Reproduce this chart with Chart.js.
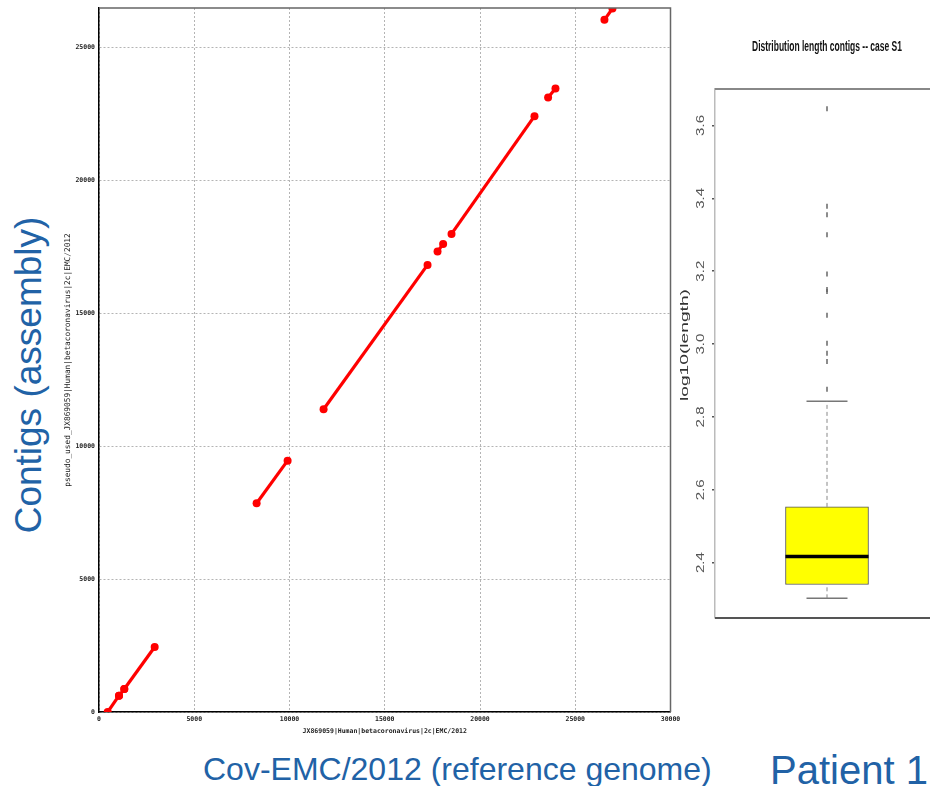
<!DOCTYPE html>
<html>
<head>
<meta charset="utf-8">
<script src="https://cdn.jsdelivr.net/npm/chart.js@4.4.1/dist/chart.umd.min.js"></script>
<style>
    body { margin: 0; background: #fff; font-family: "Liberation Sans", Arial, sans-serif; }
    #page { position: relative; width: 930px; height: 786px; overflow: hidden; }
    #dot { position: absolute; left: 60px; top: 0; }
    #box { position: absolute; left: 680px; top: 30px; }
    .blue { position: absolute; color: #2162a6; white-space: nowrap; line-height: 1; }
    #ylab { left: 28px; top: 375px; font-size: 37px; transform: translate(-50%, -50%) rotate(-90deg); }
    #xlab { left: 203px; top: 753px; font-size: 32px; }
    #patient { left: 770px; top: 750px; font-size: 40px; }
</style>
</head>
<body>
<div id="page">
    <canvas id="dot" width="630" height="745"></canvas>
    <canvas id="box" width="270" height="610"></canvas>
    <div class="blue" id="ylab">Contigs (assembly)</div>
    <div class="blue" id="xlab">Cov-EMC/2012 (reference genome)</div>
    <div class="blue" id="patient">Patient 1</div>
</div>
<script>
// dot plot: contigs against the reference
const xTicks = [0, 5000, 10000, 15000, 20000, 25000, 30000];
const yTicks = [0, 5000, 10000, 15000, 20000, 25000];
const refStart = [456, 1049, 1328, 8274, 11789, 17771, 18505, 23575, 26532];
const refEnd = [1049, 1328, 2922, 9900, 17246, 18065, 22860, 23962, 26952];
const asmStart = [0, 613, 865, 7852, 11388, 17317, 17983, 23111, 26035];
const asmEnd = [613, 865, 2445, 9455, 16817, 17607, 22411, 23450, 26460];
const xTitle = "JX869059|Human|betacoronavirus|2c|EMC/2012";
const yTitle = "pseudo_used_JX869059|Human|betacoronavirus|2c|EMC/2012";

// box plot: log10 contig lengths
const boxTicks = [2.4, 2.6, 2.8, 3.0, 3.2, 3.4, 3.6];
const quartiles = [2.340, 2.417, 2.553];   // q1, median, q3
const whiskers = [2.302, 2.843];
const outliers = [2.876, 2.952, 2.975, 3.002, 3.079, 3.144, 3.150, 3.192, 3.300, 3.355, 3.378, 3.646];
const boxTitle = "Distribution length contigs -- case S1";
const boxYTitle = "log10(length)";

const monoFont = {family: "DejaVu Sans Mono", size: 6.5, weight: "bold"};

const frame = {
    id: "frame",
    afterDraw(chart) {
        const {ctx, chartArea: a} = chart;
        ctx.save();
        ctx.strokeStyle = "#666";
        ctx.lineWidth = 1.5;
        ctx.beginPath();
        ctx.moveTo(a.left, a.top);
        ctx.lineTo(a.right, a.top);
        ctx.lineTo(a.right, a.bottom);
        ctx.stroke();
        ctx.restore();
    }
};

new Chart(document.getElementById("dot"), {
    type: "line",
    data: {
        datasets: refStart.map((s, i) => ({
            data: [{x: s, y: asmStart[i]}, {x: refEnd[i], y: asmEnd[i]}],
            borderColor: "#ff0000",
            backgroundColor: "#ff0000",
            borderWidth: 3.2,
            pointRadius: 4,
            pointBorderWidth: 0
        }))
    },
    options: {
        responsive: false,
        animation: false,
        events: [],
        layout: {padding: {top: 8, right: 19.5, bottom: 7, left: 0}},
        plugins: {legend: {display: false}, tooltip: {enabled: false}},
        scales: {
            x: {
                type: "linear", min: 0, max: 30000,
                afterBuildTicks: s => { s.ticks = xTicks.map(v => ({value: v})); },
                afterFit: s => { s.height = 26; },
                grid: {color: "#b4b4b4", lineWidth: 1, drawTicks: false},
                border: {color: "#000", width: 1.5, dash: [2, 2]},
                ticks: {font: monoFont, color: "#222", padding: 3, maxRotation: 0, callback: v => String(v)},
                title: {display: true, text: xTitle, font: monoFont, color: "#222", padding: {top: 0, bottom: 3}}
            },
            y: {
                type: "linear", min: 0, max: 26480,
                afterBuildTicks: s => { s.ticks = yTicks.map(v => ({value: v})); },
                afterFit: s => { s.width = 39; },
                grid: {color: "#b4b4b4", lineWidth: 1, drawTicks: false},
                border: {color: "#000", width: 1.5, dash: [2, 2]},
                ticks: {font: monoFont, color: "#222", padding: 4, callback: v => String(v)},
                title: {display: true, text: yTitle, font: {family: "DejaVu Sans Mono", size: 7.8}, color: "#222", padding: {top: 3.5, bottom: 0}}
            }
        }
    },
    plugins: [frame]
});

function drawFit(ctx, text, x, y, rot, width, font, color) {
    ctx.save();
    ctx.font = font;
    ctx.fillStyle = color;
    ctx.textAlign = "center";
    ctx.textBaseline = "middle";
    const k = width / ctx.measureText(text).width;
    ctx.translate(x, y);
    ctx.rotate(rot);
    ctx.scale(k, 1);
    ctx.fillText(text, 0, 0);
    ctx.restore();
}

const boxDecor = {
    id: "boxDecor",
    afterDraw(chart) {
        const {ctx, chartArea: a, scales: {y}} = chart;
        ctx.save();
        ctx.strokeStyle = "#888";
        ctx.lineWidth = 2;
        ctx.beginPath();
        ctx.moveTo(a.left, a.top);
        ctx.lineTo(a.right, a.top);
        ctx.stroke();
        ctx.strokeStyle = "#555";
        ctx.beginPath();
        ctx.moveTo(a.left, a.bottom);
        ctx.lineTo(a.right, a.bottom);
        ctx.stroke();
        ctx.restore();
        boxTicks.forEach(v => {
            drawFit(ctx, v.toFixed(1), 21, y.getPixelForValue(v), -Math.PI / 2, 21, "10px 'Liberation Sans'", "#555");
        });
        drawFit(ctx, boxYTitle, 5, 315, -Math.PI / 2, 112, "10px 'Liberation Sans'", "#333");
        drawFit(ctx, boxTitle, (a.left + a.right) / 2, 17, 0, 150, "bold 14px 'Liberation Sans'", "#111");
    }
};

const [q1, med, q3] = quartiles;
const [lo, hi] = whiskers;

new Chart(document.getElementById("box"), {
    type: "bar",
    data: {
        datasets: [
            {type: "line", data: [{x: 0.629, y: med}, {x: 1.371, y: med}], borderColor: "#000", borderWidth: 3.5, pointRadius: 0, order: 0},
            {type: "line", data: outliers.map(v => ({x: 1, y: v})), showLine: false, pointStyle: "line", rotation: 90,
                pointRadius: 2.5, pointBorderWidth: 1.5, pointBorderColor: "#666", borderColor: "#666", order: 0},
            {type: "line", data: [{x: 1, y: q3}, {x: 1, y: hi}], borderColor: "#888", borderWidth: 1, borderDash: [4, 3], pointRadius: 0, order: 1},
            {type: "line", data: [{x: 1, y: lo}, {x: 1, y: q1}], borderColor: "#888", borderWidth: 1, borderDash: [4, 3], pointRadius: 0, order: 1},
            {type: "line", data: [{x: 0.817, y: hi}, {x: 1.183, y: hi}], borderColor: "#777", borderWidth: 1.5, pointRadius: 0, order: 1},
            {type: "line", data: [{x: 0.817, y: lo}, {x: 1.183, y: lo}], borderColor: "#777", borderWidth: 1.5, pointRadius: 0, order: 1},
            {type: "bar", data: [{x: 1, y: [q1, q3]}], backgroundColor: "#ffff00", borderColor: "#555", borderWidth: 1,
                borderSkipped: false, barThickness: 83, order: 2}
        ]
    },
    options: {
        responsive: false,
        animation: false,
        events: [],
        layout: {padding: {top: 59, right: 11, bottom: 22, left: 0}},
        plugins: {legend: {display: false}, tooltip: {enabled: false}},
        scales: {
            x: {type: "linear", min: 0, max: 2, offset: false, display: false},
            y: {
                type: "linear", min: 2.248, max: 3.700,
                afterBuildTicks: s => { s.ticks = boxTicks.map(v => ({value: v})); },
                afterFit: s => { s.width = 35; },
                grid: {drawOnChartArea: false, drawTicks: true, tickLength: 3, color: "#555", lineWidth: 1.5},
                border: {color: "#bbb", width: 1.5},
                ticks: {display: false}
            }
        }
    },
    plugins: [boxDecor]
});
</script>
</body>
</html>
